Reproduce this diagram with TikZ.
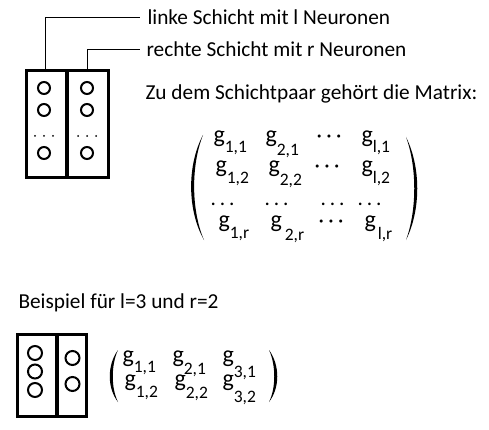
\documentclass[tikz,border=0pt]{standalone}
\usepackage{fontspec}
\setmainfont{Carlito}
\newcommand{\subfont}{\fontsize{17.5}{17.5}\selectfont}
% g mit tiefgestelltem Index
\newcommand{\gsub}[2][9pt]{{\fontsize{24}{24}\selectfont g}\raisebox{-#1}{\subfont #2}}
\newcommand{\pkt}{·\kern4.5pt·\kern4.5pt·}
\newcommand{\pkte}{.\kern4pt.\kern4pt.}

\begin{document}
\begin{tikzpicture}[x=1pt,y=-1pt,line width=1pt,font=\fontsize{21.3}{25}\selectfont,
  box/.style={line width=3.3pt},
  neuron/.style={draw,circle,line width=2pt,minimum size=12pt,inner sep=0pt},
  gross/.style={neuron,minimum size=14pt},
  txt/.style={anchor=base west,inner sep=0pt}]
  \useasboundingbox (0,0) rectangle (489,430);

  % Schichtpaar oben
  \draw[box] (26.5,70.5) rectangle (66.5,177.5);
  \draw[box] (67.5,70.5) rectangle (108.5,177.5);
  \node[neuron] (l1) at (44,88) {};
  \node[neuron] (l2) at (44,110) {};
  \node[neuron] (ln) at (44,153) {};
  \node[neuron] (r1) at (87,88) {};
  \node[neuron] (r2) at (87,110) {};
  \node[neuron] (rn) at (87,153) {};
  \foreach \x in {35,44,53,78,87,96} \fill (\x,136) circle (1pt);

  \node[txt] (linke) at (147,25) {linke Schicht mit l Neuronen};
  \node[txt] (rechte) at (146,57) {rechte Schicht mit r Neuronen};
  \coordinate (lk) at (45,69);
  \coordinate (rk) at (87,69);
  \draw (lk) |- ([xshift=-7pt]linke.west);
  \draw (rk) |- ([xshift=-6pt]rechte.west);

  \node[txt] (satz) at (145,100) {Zu dem Schichtpaar gehört die Matrix:};

  % Matrix
  \fill (203,135) .. controls (187,165) and (187,210) .. (204,240)
    .. controls (191,210) and (191,165) .. (203,135);
  \fill (406,137) .. controls (421,167) and (421,210) .. (406,240)
    .. controls (417,210) and (417,167) .. (406,137);
  \node[txt] (g11) at (213,143) {\gsub[10pt]{1,1}};
  \node[txt] (g21) at (265,143) {\gsub[13pt]{2,1}};
  \node[txt] (p1) at (316,143) {\pkt};
  \node[txt] (gl1) at (361,143) {\gsub[10pt]{l,1}};
  \node[txt] (g12) at (215,173) {\gsub[11pt]{1,2}};
  \node[txt] (g22) at (268,173) {\gsub[13pt]{2,2}};
  \node[txt] (p2) at (314,173) {\pkt};
  \node[txt] (gl2) at (361,173) {\gsub[11pt]{l,2}};
  \node[txt] (q1) at (210,205) {\pkte};
  \node[txt] (q2) at (264,205) {\pkte};
  \node[txt] (q3) at (320,205) {\pkte};
  \node[txt] (q4) at (357,205) {\pkte};
  \node[txt] (g1r) at (218,227) {\gsub[11pt]{1,r}};
  \node[txt] (g2r) at (270,227) {{\fontsize{24}{24}\selectfont g}\kern3pt\raisebox{-13pt}{\subfont 2,r}};
  \node[txt] (pr) at (318,227) {\pkt};
  \node[txt] (glr) at (364,227) {{\fontsize{24}{24}\selectfont g}\kern2pt\raisebox{-12pt}{\subfont l,r}};

  % Beispiel
  \node[txt] (bsp) at (18,308) {Beispiel für l=3 und r=2};
  \draw[box] (17.6,334.6) rectangle (56.5,416.4);
  \draw[box] (57.5,334.6) rectangle (86.4,416.4);
  \node[gross] (a1) at (35,353) {};
  \node[gross] (a2) at (35,371.5) {};
  \node[gross] (a3) at (35,390) {};
  \node[gross] (b1) at (72.5,358) {};
  \node[gross] (b2) at (72.5,384) {};

  \fill (118,350) .. controls (107,365) and (107,388) .. (118,402)
    .. controls (111,388) and (111,365) .. (118,350);
  \fill (269,350) .. controls (280,365) and (280,388) .. (269,402)
    .. controls (276,388) and (276,365) .. (269,350);
  \node[txt] (b11) at (122,362) {\gsub[10pt]{1,1}};
  \node[txt] (b21) at (172,362) {\gsub[12pt]{2,1}};
  \node[txt] (b31) at (222,362) {\gsub[15pt]{3,1}};
  \node[txt] (b12) at (124,386) {\gsub[11pt]{1,2}};
  \node[txt] (b22) at (174,386) {\gsub[12pt]{2,2}};
  \node[txt] (b32) at (222,386) {\gsub[16pt]{3,2}};
\end{tikzpicture}
\end{document}
